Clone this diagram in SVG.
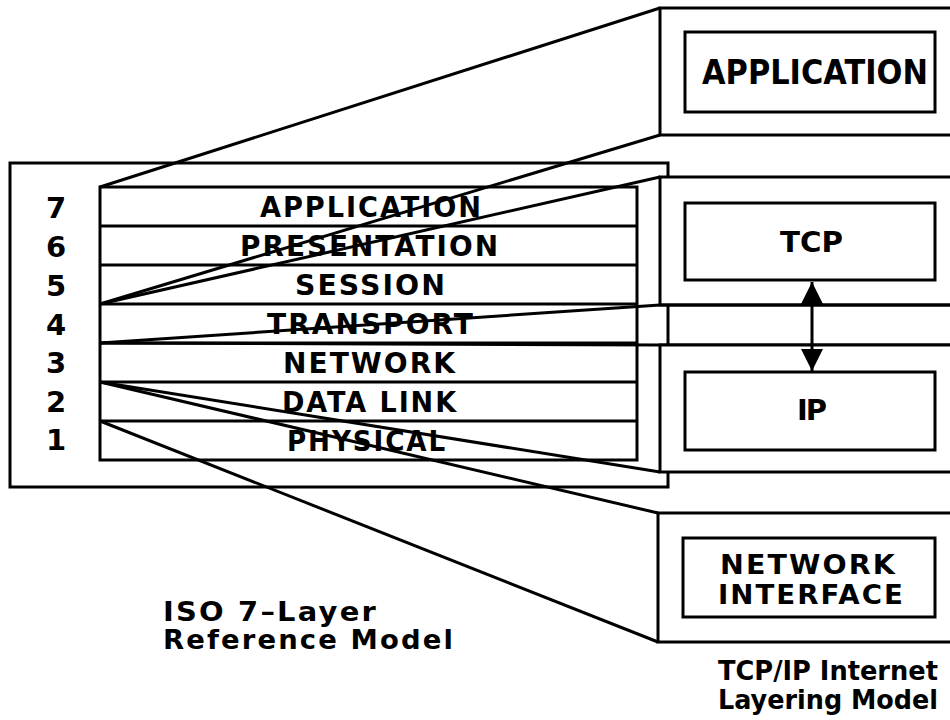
<svg xmlns="http://www.w3.org/2000/svg" width="950" height="720" viewBox="0 0 950 720">
<style>
.ln{fill:none;stroke:#000;stroke-width:3;stroke-linejoin:miter}
.box{fill:#fff;stroke:#000;stroke-width:3}
.t{font-family:"DejaVu Sans","Liberation Sans",Arial,sans-serif;font-weight:bold;fill:#000}
.num{font-size:29px;text-anchor:middle}
.row{font-size:28px;letter-spacing:2px}
.blk{font-size:29px}
.cap{font-size:26px;letter-spacing:2px}
.ni{font-size:27px;letter-spacing:2px}
.tcap{font-size:26px}
</style>
<defs>
<marker id="ah" markerUnits="userSpaceOnUse" viewBox="0 0 22 22" refX="22" refY="11" markerWidth="22" markerHeight="22" orient="auto-start-reverse">
<path d="M0,0 L22,11 L0,22 z" fill="#000"/>
</marker>
</defs>
<rect width="950" height="720" fill="#fff"/>

<g id="iso-model">
<rect class="box" x="10" y="163" width="658" height="324"/>
<rect class="box" x="100" y="187" width="537" height="273"/>
<path class="ln" d="M100,226H637M100,265H637M100,304H637M100,343H637M100,382H637M100,421H637"/>
</g>

<g id="layer-7"><text class="t num" x="56" y="218">7</text><text class="t row" x="260" y="217" textLength="223" lengthAdjust="spacingAndGlyphs">APPLICATION</text></g>
<g id="layer-6"><text class="t num" x="56" y="257">6</text><text class="t row" x="240" y="256" textLength="260" lengthAdjust="spacingAndGlyphs">PRESENTATION</text></g>
<g id="layer-5"><text class="t num" x="56" y="296">5</text><text class="t row" x="295" y="295" textLength="152" lengthAdjust="spacingAndGlyphs">SESSION</text></g>
<g id="layer-4"><text class="t num" x="56" y="335">4</text><text class="t row" x="267" y="334" textLength="208" lengthAdjust="spacingAndGlyphs">TRANSPORT</text></g>
<g id="layer-3"><text class="t num" x="56" y="373">3</text><text class="t row" x="283" y="373" textLength="174" lengthAdjust="spacingAndGlyphs">NETWORK</text></g>
<g id="layer-2"><text class="t num" x="56" y="412">2</text><text class="t row" x="282" y="412" textLength="176" lengthAdjust="spacingAndGlyphs">DATA LINK</text></g>
<g id="layer-1"><text class="t num" x="56" y="450">1</text><text class="t row" x="287" y="451" textLength="160" lengthAdjust="spacingAndGlyphs">PHYSICAL</text></g>

<g id="iso-caption">
<text class="t cap" x="163" y="621" textLength="215" lengthAdjust="spacingAndGlyphs">ISO 7–Layer</text>
<text class="t cap" x="163" y="649" textLength="292" lengthAdjust="spacingAndGlyphs">Reference Model</text>
</g>

<g id="tcpip-application">
<rect class="box" x="660" y="8" width="300" height="127"/>
<rect class="box" x="685" y="32" width="250" height="80"/>
<text class="t" style="font-size:33px" x="702" y="84" textLength="226" lengthAdjust="spacingAndGlyphs">APPLICATION</text>
</g>

<g id="tcpip-tcp">
<rect class="box" x="660" y="177" width="300" height="128"/>
<rect class="box" x="685" y="203" width="250" height="77"/>
<text class="t blk" x="780" y="252" textLength="63" lengthAdjust="spacingAndGlyphs">TCP</text>
</g>

<g id="tcpip-band">
<path class="ln" d="M660,305H950M660,345H950"/>
</g>

<g id="tcpip-ip">
<rect class="box" x="660" y="345" width="300" height="127"/>
<rect class="box" x="685" y="372" width="250" height="78"/>
<text class="t blk" x="797" y="420" textLength="30" lengthAdjust="spacing">IP</text>
</g>

<g id="tcpip-netif">
<rect class="box" x="658" y="513" width="302" height="129"/>
<rect class="box" x="683" y="538" width="252" height="79"/>
<text class="t ni" x="720" y="574" textLength="177" lengthAdjust="spacingAndGlyphs">NETWORK</text>
<text class="t ni" x="718" y="604" textLength="187" lengthAdjust="spacingAndGlyphs">INTERFACE</text>
</g>

<g id="tcpip-caption">
<text class="t tcap" x="718" y="680" textLength="220" lengthAdjust="spacingAndGlyphs">TCP/IP Internet</text>
<text class="t tcap" x="718" y="709" textLength="220" lengthAdjust="spacingAndGlyphs">Layering Model</text>
</g>

<g id="connectors">
<path class="ln" d="M100,187L660,8"/>
<path class="ln" d="M100,304L660,135"/>
<path class="ln" d="M100,304L660,177"/>
<path class="ln" d="M100,343L660,305"/>
<path class="ln" d="M100,343L660,345"/>
<path class="ln" d="M100,382L660,472"/>
<path class="ln" d="M100,382L658,513"/>
<path class="ln" d="M100,421L658,642"/>
<line class="ln" x1="812" y1="282" x2="812" y2="371" marker-start="url(#ah)" marker-end="url(#ah)"/>
</g>
</svg>
